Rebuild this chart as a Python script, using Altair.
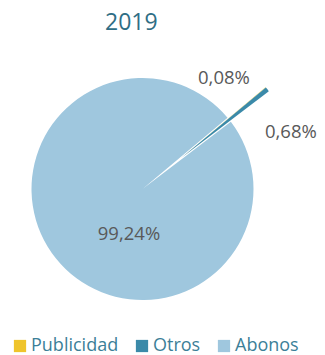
import math
import altair as alt
import pandas as pd

categories = ["Publicidad", "Otros", "Abonos"]
values = [0.08, 0.68, 99.24]
labels = ["0,08%", "0,68%", "99,24%"]
order = [0, 1, 2]
colors = ["#efc42b", "#3b8aa9", "#9fc7de"]

df = pd.DataFrame({"category": categories, "value": values, "label": labels, "order": order})

start = math.radians(50)
theta = alt.Theta("value:Q", stack=True,
                  scale=alt.Scale(range=[start, start + 2 * math.pi]))
color = alt.Color("category:N",
                  scale=alt.Scale(domain=categories, range=colors),
                  sort=categories,
                  legend=alt.Legend(title=None, orient="none", direction="horizontal",
                                    legendX=3, legendY=291, symbolType="square",
                                    symbolSize=150, symbolStrokeWidth=0,
                                    labelFontSize=18, labelFont="Open Sans",
                                    labelColor="#3c7f98", labelOffset=2,
                                    columnPadding=14))
ordr = alt.Order("order:Q")
cx = alt.value(134.5)
cy = alt.value(143)

base = alt.Chart(df)

main = base.mark_arc(radius=111).encode(
    theta=theta, color=color, order=ordr, x=cx, y=cy,
    opacity=alt.condition(alt.datum.category == "Abonos", alt.value(1), alt.value(0)),
)

expl = base.mark_arc(radius=111, xOffset=38, yOffset=-30.5).encode(
    theta=theta, color=color, order=ordr, x=cx, y=cy,
    opacity=alt.condition(alt.datum.category == "Abonos", alt.value(0), alt.value(1)),
)

def lab(cat, r, dx, dy):
    return base.mark_text(radius=r, dx=dx, dy=dy, font="Open Sans", fontSize=18.5,
                          color="#595959", align="center", baseline="middle").encode(
        theta=theta, order=ordr, x=cx, y=cy, text="label:N",
        opacity=alt.condition(alt.datum.category == cat, alt.value(1), alt.value(0)),
    )

t1 = lab("Publicidad", 138, -24.5, -22.6)
t2 = lab("Otros", 164, 20, 45)
t3 = lab("Abonos", 0, -13.5, 45)

chart = alt.layer(main, expl, t1, t2, t3).properties(
    width=309, height=309,
    autosize=alt.AutoSizeParams(type="none"),
    padding={"left": 0, "top": 38, "right": 0, "bottom": 0},
    title=alt.TitleParams("2019", font="Open Sans", fontSize=23, fontWeight="normal",
                          color="#2f6e85", anchor="start", dx=97, offset=11,
                          frame="group"),
).configure_view(stroke=None)

chart.save("out.html", embed_options={"renderer": "svg", "actions": False})
